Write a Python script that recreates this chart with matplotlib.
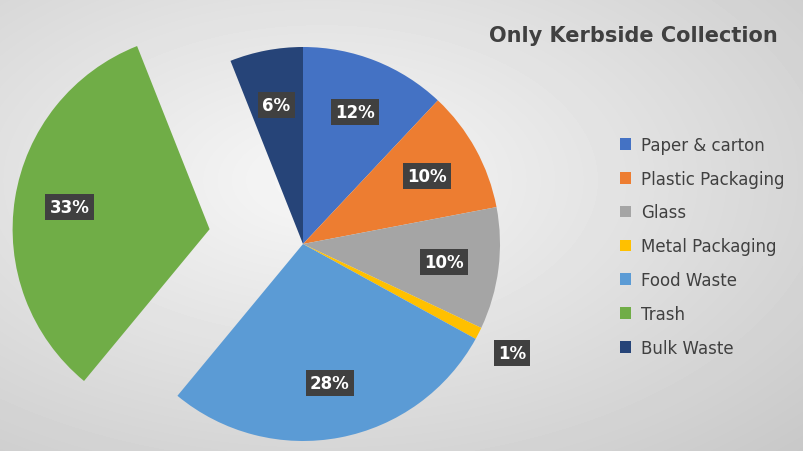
import matplotlib.pyplot as plt
import numpy as np

categories = ["Paper & carton", "Plastic Packaging", "Glass", "Metal Packaging",
              "Food Waste", "Trash", "Bulk Waste"]
shares = [12, 10, 10, 1, 28, 33, 6]
colors = ["#4472C4", "#ED7D31", "#A5A5A5", "#FFC000", "#5B9BD5", "#70AD47", "#264478"]
explode = [0, 0, 0, 0, 0, 0.48, 0]

W, H = 804, 452
cx, cy, r = 303, 245, 197

fig = plt.figure(figsize=(W / 100, H / 100), dpi=100)

# radial gray background
bg = fig.add_axes([0, 0, 1, 1])
yy, xx = np.mgrid[0:H, 0:W]
d = np.hypot((xx - W * 0.4) / W, (yy - H * 0.4) / H)
bg.imshow(0.97 - 0.22 * d, cmap="gray", vmin=0, vmax=1, aspect="auto")
bg.axis("off")

ax = fig.add_axes([0, 0, 1, 1])
wedges, _ = ax.pie(shares, colors=colors, startangle=90, counterclock=False,
                   explode=explode, radius=1, wedgeprops=dict(linewidth=0))
ax.set_aspect("auto")
ax.set_xlim(-cx / r, (W - cx) / r)
ax.set_ylim(-(H - cy) / r, cy / r)
ax.axis("off")

box = dict(boxstyle="square,pad=0.25", fc="#404040", ec="none")
for i, (w, v) in enumerate(zip(wedges, shares)):
    mid = np.deg2rad((w.theta1 + w.theta2) / 2)
    cxw, cyw = w.center
    dist = 0.72 if i == 5 else 0.72
    x = cxw + dist * np.cos(mid)
    y = cyw + dist * np.sin(mid)
    if i == 3:
        x, y = (512 - cx) / r, (cy - 354) / r
    ax.text(x, y, f"{v}%", ha="center", va="center", color="white",
            fontsize=12, fontweight="bold", bbox=box)

fig.text(633 / W, 1 - 36 / H, "Only Kerbside Collection", ha="center", va="center",
         fontsize=15, fontweight="bold", color="#404040")

fig.legend(wedges, categories, loc="center left", bbox_to_anchor=(0.752, 0.453),
           frameon=False, fontsize=12, handlelength=0.7, handleheight=0.7,
           labelspacing=0.95, labelcolor="#404040", handletextpad=0.6)

fig.savefig("out.png", dpi=100)
